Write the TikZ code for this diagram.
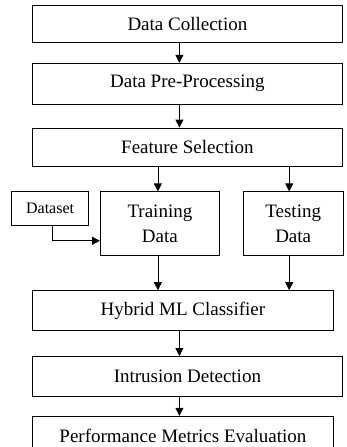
\documentclass[tikz,border=0pt]{standalone}
\usepackage{fontspec}
\setmainfont{Liberation Serif}
\usetikzlibrary{arrows.meta}
\usetikzlibrary{positioning}

\begin{document}
\begin{tikzpicture}[x=1pt, y=1pt,
box/.style={rectangle, draw=black, fill=none, line width=0.8pt, font=\fontsize{19}{25}\selectfont, align=center, inner sep=0pt},
wide/.style={box, minimum width=310pt},
flow/.style={-{Triangle[length=8pt,width=8pt]}, line width=0.8pt},
]
\useasboundingbox (0,0) rectangle (347,-447);
\node[wide, minimum height=37pt, anchor=north west](dc) at (32,-5){Data Collection};
\node[wide, minimum height=41pt](pp)[below right=20pt and 0pt of dc.south west]{Data Pre-Processing};
\node[wide, minimum height=38pt](fs)[below right=23pt and 0pt of pp.south west]{Feature Selection};
\node[box, minimum width=119pt, minimum height=64pt](tr)[below right=25pt and 68pt of fs.south west]{Training\\Data};
\node[box, minimum width=100pt, minimum height=64pt](te)[right=23pt of tr]{Testing\\Data};
\node[box, minimum width=77pt, minimum height=34pt, font=\fontsize{16}{20}\selectfont](ds)[below left=0pt and 11pt of tr.north west]{Dataset};
\coordinate (hyc) at (fs.west |- tr.south);
\node[box, minimum width=301pt, minimum height=40pt](hy)[below right=34pt and 0pt of hyc]{Hybrid ML Classifier};
\node[wide, minimum height=40pt](id)[below right=25pt and 0pt of hy.south west]{Intrusion Detection};
\node[box, minimum width=301pt, minimum height=40pt](pm)[below right=19pt and 0pt of id.south west]{Performance Metrics Evaluation};
\draw[flow] ([xshift=-8pt]dc.south) -- ([xshift=-8pt]pp.north);
\draw[flow] ([xshift=-8pt]pp.south) -- ([xshift=-8pt]fs.north);
\draw[flow] ([xshift=-2pt]tr.north |- fs.south) -- ([xshift=-2pt]tr.north);
\draw[flow] ([xshift=-4pt]te.north |- fs.south) -- ([xshift=-4pt]te.north);
\draw[flow] ([xshift=-2pt]tr.south) -- ([xshift=-2pt]tr.south |- hy.north);
\draw[flow] ([xshift=-4pt]te.south) -- ([xshift=-4pt]te.south |- hy.north);
\draw[flow] ([xshift=2pt]ds.south) |- ([yshift=-17pt]tr.west);
\draw[flow] ([xshift=-8pt]id.north |- hy.south) -- ([xshift=-8pt]id.north);
\draw[flow] ([xshift=-8pt]id.south) -- ([xshift=-8pt]id.south |- pm.north);
\end{tikzpicture}
\end{document}
